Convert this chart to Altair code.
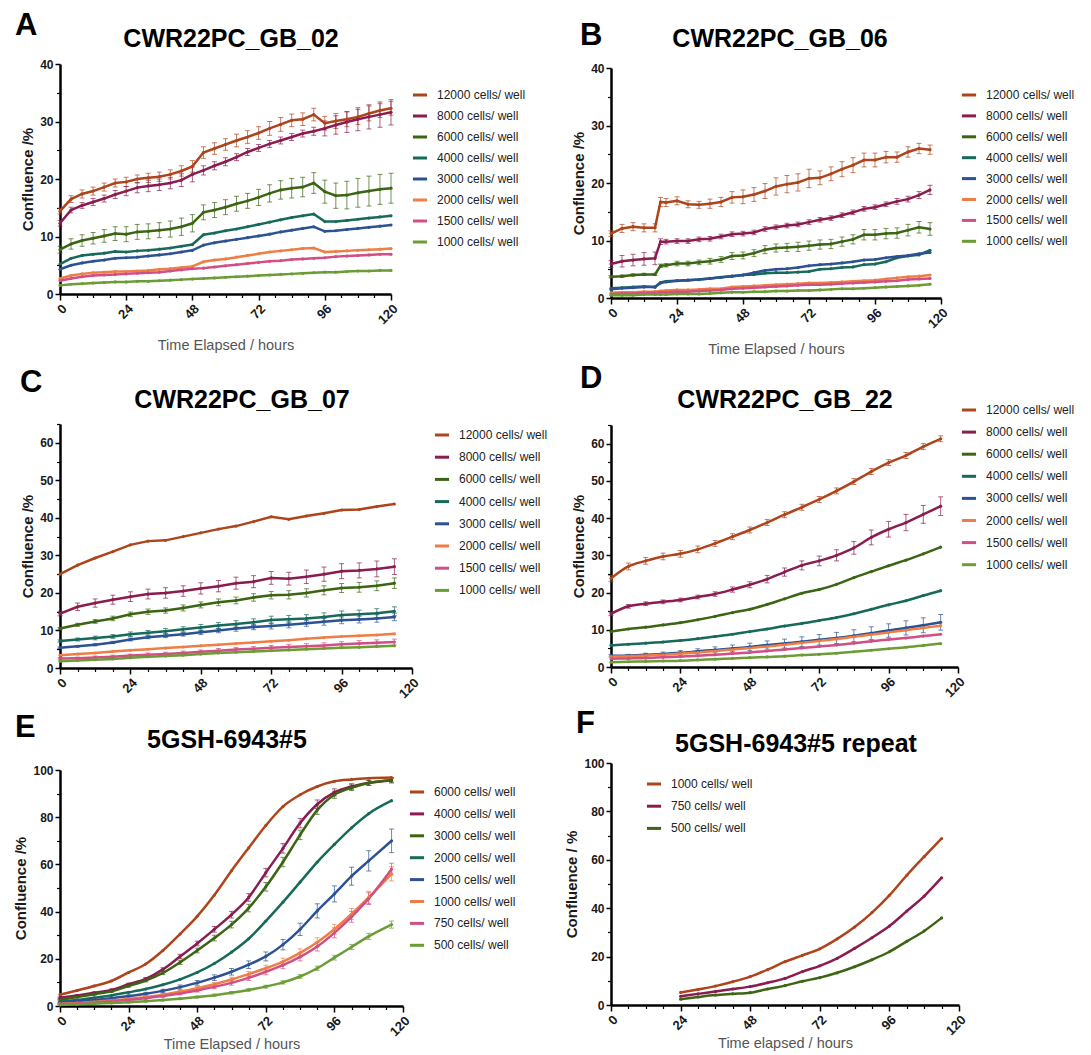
import altair as alt
import pandas as pd

FONT = "Liberation Sans"
COLORS = ["#AE441C", "#8A1C4F", "#3B6512", "#17695A", "#2D5293", "#EE7E45", "#D14F84", "#6C9C35"]

CWR_LABELS = ["12000 cells/ well", "8000 cells/ well", "6000 cells/ well", "4000 cells/ well",
              "3000 cells/ well", "2000 cells/ well", "1500 cells/ well", "1000 cells/ well"]
E_LABELS = ["6000 cells/ well", "4000 cells/ well", "3000 cells/ well", "2000 cells/ well",
            "1500 cells/ well", "1000 cells/ well", "750 cells/ well", "500 cells/ well"]
F_LABELS = ["1000 cells/ well", "750 cells/ well", "500 cells/ well"]

X_MAJOR = [0, 24, 48, 72, 96, 120]
X_MINOR = [6, 12, 18, 30, 36, 42, 54, 60, 66, 78, 84, 90, 102, 108, 114]

# ---------------- Panel A: CWR22PC_GB_02 ----------------
A_T = [0, 4, 8, 12, 16, 20, 24, 28, 32, 36, 40, 44, 48, 52, 56, 60, 64, 68, 72, 76, 80, 84, 88, 92, 96, 100, 104, 108, 112, 116, 120]
A_12000 = [14.4, 16.5, 17.4, 17.9, 18.6, 19.3, 19.5, 20.0, 20.2, 20.4, 20.8, 21.4, 22.2, 24.6, 25.3, 26.0, 26.7, 27.3, 28.0, 28.8, 29.5, 30.2, 30.4, 31.2, 29.7, 30.1, 30.4, 30.8, 31.4, 31.9, 32.3]
A_8000 = [12.3, 14.6, 15.4, 16.0, 16.6, 17.3, 17.9, 18.5, 18.8, 19.0, 19.3, 19.8, 20.8, 21.5, 22.3, 23.0, 23.8, 24.7, 25.4, 26.1, 26.7, 27.3, 27.9, 28.3, 28.8, 29.4, 29.9, 30.4, 30.8, 31.2, 31.6]
A_6000 = [7.7, 8.7, 9.3, 9.7, 10.1, 10.5, 10.4, 10.8, 10.9, 11.1, 11.3, 11.7, 12.3, 14.2, 14.6, 15.1, 15.7, 16.2, 16.8, 17.5, 18.1, 18.4, 18.6, 19.3, 17.8, 17.1, 17.2, 17.6, 17.9, 18.2, 18.4]
A_4000 = [5.2, 6.2, 6.7, 6.9, 7.1, 7.4, 7.3, 7.5, 7.6, 7.8, 8.0, 8.3, 8.6, 10.3, 10.6, 11.0, 11.3, 11.7, 12.1, 12.5, 12.9, 13.3, 13.6, 13.9, 12.6, 12.6, 12.8, 13.0, 13.2, 13.4, 13.6]
A_3000 = [4.3, 5.0, 5.4, 5.7, 5.9, 6.2, 6.3, 6.4, 6.6, 6.8, 7.0, 7.3, 7.6, 8.5, 8.9, 9.2, 9.5, 9.8, 10.1, 10.4, 10.8, 11.1, 11.4, 11.7, 10.9, 11.0, 11.2, 11.4, 11.6, 11.8, 12.0]
A_2000 = [2.7, 3.2, 3.5, 3.7, 3.8, 3.9, 3.9, 4.0, 4.1, 4.3, 4.4, 4.6, 4.8, 5.6, 5.9, 6.1, 6.4, 6.7, 7.0, 7.3, 7.5, 7.7, 7.9, 8.0, 7.3, 7.4, 7.5, 7.6, 7.7, 7.8, 7.9]
A_1500 = [2.3, 2.7, 3.0, 3.2, 3.3, 3.4, 3.5, 3.6, 3.7, 3.8, 4.0, 4.2, 4.4, 4.5, 4.7, 4.9, 5.1, 5.3, 5.5, 5.7, 5.8, 6.0, 6.1, 6.2, 6.3, 6.5, 6.6, 6.7, 6.8, 6.9, 6.9]
A_1000 = [1.5, 1.7, 1.8, 1.9, 2.0, 2.1, 2.1, 2.2, 2.2, 2.3, 2.4, 2.5, 2.6, 2.7, 2.8, 2.9, 3.0, 3.1, 3.2, 3.3, 3.4, 3.5, 3.6, 3.7, 3.8, 3.8, 3.9, 4.0, 4.0, 4.1, 4.1]
A_12000_ERR = [0.5, 0.6, 0.7, 0.7, 0.7, 0.7, 0.8, 0.7, 0.8, 0.8, 0.8, 0.9, 1.0, 1.0, 1.0, 1.0, 1.1, 1.1, 1.1, 1.2, 1.2, 1.1, 1.1, 1.1, 1.2, 1.3, 1.3, 1.3, 1.3, 1.2, 1.2]
A_8000_ERR = [0.5, 0.5, 0.5, 0.6, 0.6, 0.7, 0.8, 0.9, 1.0, 1.0, 1.0, 1.1, 1.3, 0.8, 0.7, 0.7, 0.6, 0.6, 0.6, 0.6, 0.6, 0.6, 0.6, 0.7, 1.3, 1.6, 1.8, 2.0, 2.1, 2.2, 2.2]
A_6000_ERR = [0.6, 0.9, 1.0, 1.0, 1.1, 1.2, 1.3, 1.3, 1.3, 1.3, 1.4, 1.5, 1.5, 1.3, 1.3, 1.3, 1.3, 1.3, 1.4, 1.5, 1.6, 1.7, 1.7, 1.8, 2.0, 2.2, 2.4, 2.5, 2.6, 2.6, 2.6]

# ---------------- Panel B: CWR22PC_GB_06 ----------------
B_T = [0, 4, 8, 12, 16, 18, 20, 24, 28, 32, 36, 40, 44, 48, 52, 56, 60, 64, 68, 72, 76, 80, 84, 88, 92, 96, 100, 104, 108, 112, 116]
B_12000 = [11.2, 12.1, 12.4, 12.2, 12.2, 16.7, 16.6, 16.9, 16.3, 16.2, 16.4, 16.7, 17.5, 17.6, 18.0, 18.6, 19.4, 19.8, 20.1, 20.8, 20.9, 21.6, 22.4, 23.1, 24.0, 24.0, 24.5, 24.5, 25.4, 26.0, 25.8]
B_8000 = [5.9, 6.4, 6.6, 6.8, 6.9, 9.8, 9.8, 9.9, 9.9, 10.2, 10.3, 10.7, 11.1, 11.2, 11.4, 12.0, 12.3, 12.6, 12.8, 13.2, 13.6, 13.9, 14.4, 14.9, 15.5, 15.8, 16.3, 16.8, 17.2, 17.9, 18.8]
B_6000 = [3.7, 3.8, 4.0, 4.1, 4.1, 5.6, 5.7, 6.0, 6.0, 6.2, 6.4, 6.7, 7.3, 7.4, 7.8, 8.4, 8.7, 8.8, 8.9, 9.1, 9.3, 9.4, 9.8, 10.2, 11.0, 11.0, 11.2, 11.3, 11.8, 12.3, 12.0]
B_4000 = [1.7, 1.8, 1.9, 2.0, 1.9, 2.7, 2.9, 3.0, 3.1, 3.2, 3.4, 3.6, 3.8, 4.0, 4.1, 4.3, 4.4, 4.4, 4.5, 4.6, 5.0, 5.1, 5.3, 5.4, 5.8, 5.9, 6.3, 7.0, 7.3, 7.5, 8.3]
B_3000 = [1.5, 1.7, 1.8, 1.9, 1.9, 2.6, 2.8, 3.0, 3.1, 3.2, 3.4, 3.6, 3.8, 4.0, 4.4, 4.8, 5.0, 5.1, 5.3, 5.6, 5.8, 5.9, 6.1, 6.3, 6.6, 6.7, 7.0, 7.2, 7.4, 7.7, 7.9]
B_2000 = [0.9, 1.0, 1.0, 1.1, 1.1, 1.2, 1.3, 1.4, 1.4, 1.5, 1.6, 1.6, 1.9, 2.0, 2.1, 2.2, 2.3, 2.4, 2.5, 2.6, 2.6, 2.7, 2.8, 2.9, 3.0, 3.1, 3.3, 3.5, 3.7, 3.8, 4.0]
B_1500 = [0.7, 0.8, 0.8, 0.9, 0.9, 1.0, 1.0, 1.1, 1.1, 1.2, 1.3, 1.4, 1.6, 1.7, 1.8, 1.9, 2.0, 2.1, 2.2, 2.3, 2.3, 2.4, 2.5, 2.6, 2.7, 2.8, 2.9, 3.0, 3.2, 3.3, 3.4]
B_1000 = [0.5, 0.5, 0.5, 0.6, 0.6, 0.6, 0.6, 0.7, 0.7, 0.7, 0.8, 0.9, 1.0, 1.0, 1.1, 1.1, 1.2, 1.2, 1.3, 1.3, 1.4, 1.5, 1.6, 1.6, 1.7, 1.8, 1.9, 2.0, 2.1, 2.2, 2.4]
B_12000_ERR = [0.5, 0.7, 0.7, 0.7, 0.7, 0.8, 0.7, 0.7, 0.6, 0.6, 0.8, 0.8, 1.0, 1.2, 1.2, 1.3, 1.5, 1.5, 1.5, 1.6, 1.2, 1.2, 1.3, 1.3, 1.2, 1.2, 1.0, 0.9, 0.9, 0.9, 0.8]
B_8000_ERR = [0.6, 1.0, 1.0, 1.1, 1.1, 0.5, 0.4, 0.4, 0.4, 0.4, 0.4, 0.4, 0.4, 0.4, 0.4, 0.4, 0.4, 0.4, 0.4, 0.4, 0.4, 0.4, 0.4, 0.4, 0.4, 0.4, 0.4, 0.5, 0.5, 0.6, 0.8]
B_6000_ERR = [0.2, 0.2, 0.2, 0.2, 0.2, 0.3, 0.3, 0.4, 0.4, 0.4, 0.5, 0.5, 0.6, 0.6, 0.6, 0.7, 0.7, 0.7, 0.8, 0.8, 0.8, 0.8, 0.8, 0.8, 0.9, 0.9, 0.9, 0.9, 1.0, 1.0, 1.1]

# ---------------- Panel C: CWR22PC_GB_07 ----------------
C_T = [0, 6, 12, 18, 24, 30, 36, 42, 48, 54, 60, 66, 72, 78, 84, 90, 96, 102, 108, 114]
C_12000 = [25.0, 27.4, 29.3, 31.0, 32.8, 33.8, 34.0, 35.0, 36.0, 37.0, 37.8, 39.0, 40.3, 39.6, 40.5, 41.2, 42.1, 42.2, 43.0, 43.7]
C_8000 = [14.5, 16.3, 17.3, 18.2, 19.0, 19.7, 20.0, 20.5, 21.2, 21.8, 22.6, 23.0, 24.0, 23.8, 24.3, 25.0, 25.8, 26.0, 26.4, 27.0]
C_6000 = [10.5, 11.5, 12.4, 13.2, 14.3, 15.0, 15.3, 16.0, 16.8, 17.5, 18.0, 18.8, 19.4, 19.5, 20.0, 20.7, 21.3, 21.5, 21.9, 22.6]
C_4000 = [7.2, 7.6, 8.0, 8.4, 9.0, 9.4, 9.8, 10.3, 10.8, 11.3, 11.7, 12.2, 12.8, 13.0, 13.2, 13.6, 14.1, 14.3, 14.6, 15.1]
C_3000 = [5.4, 5.8, 6.2, 6.8, 7.6, 8.2, 8.6, 9.0, 9.5, 10.0, 10.5, 10.9, 11.2, 11.5, 11.9, 12.3, 12.7, 12.9, 13.2, 13.6]
C_2000 = [3.4, 3.7, 4.0, 4.4, 4.7, 5.0, 5.3, 5.6, 5.9, 6.2, 6.5, 6.8, 7.1, 7.4, 7.8, 8.1, 8.4, 8.6, 8.8, 9.1]
C_1500 = [2.5, 2.6, 2.8, 3.0, 3.3, 3.5, 3.7, 4.0, 4.3, 4.6, 4.9, 5.1, 5.4, 5.6, 5.8, 6.0, 6.3, 6.5, 6.7, 6.9]
C_1000 = [1.8, 2.0, 2.2, 2.4, 2.7, 3.0, 3.2, 3.4, 3.7, 4.0, 4.2, 4.4, 4.6, 4.8, 5.0, 5.2, 5.4, 5.5, 5.7, 5.9]
C_8000_ERR = [0.6, 1.0, 1.1, 1.2, 1.3, 1.3, 1.4, 1.4, 1.5, 1.5, 1.6, 1.6, 1.7, 1.7, 1.8, 1.9, 2.0, 2.0, 2.1, 2.1]
C_6000_ERR = [0.3, 0.4, 0.5, 0.6, 0.6, 0.7, 0.7, 0.8, 0.8, 0.9, 0.9, 1.0, 1.0, 1.1, 1.1, 1.2, 1.2, 1.3, 1.3, 1.4]
C_4000_ERR = [0.3, 0.4, 0.5, 0.5, 0.6, 0.6, 0.7, 0.7, 0.8, 0.8, 0.9, 0.9, 1.0, 1.0, 1.0, 1.1, 1.1, 1.1, 1.2, 1.2]
C_3000_ERR = [0.2, 0.2, 0.3, 0.3, 0.4, 0.4, 0.5, 0.5, 0.6, 0.6, 0.7, 0.7, 0.8, 0.8, 0.8, 0.9, 0.9, 0.9, 1.0, 1.0]
C_1500_ERR = [0.3, 0.3, 0.4, 0.4, 0.4, 0.5, 0.5, 0.5, 0.5, 0.6, 0.6, 0.6, 0.6, 0.7, 0.7, 0.7, 0.7, 0.8, 0.8, 0.8]

# ---------------- Panel D: CWR22PC_GB_22 ----------------
D_T = [0, 6, 12, 18, 24, 30, 36, 42, 48, 54, 60, 66, 72, 78, 84, 90, 96, 102, 108, 114]
D_12000 = [23.8, 27.0, 28.5, 29.7, 30.4, 31.6, 33.2, 35.0, 36.8, 38.8, 40.9, 42.9, 45.0, 47.3, 49.8, 52.5, 54.9, 56.8, 59.2, 61.3]
D_8000 = [14.3, 16.3, 17.0, 17.5, 18.0, 18.8, 19.6, 20.8, 22.1, 23.6, 25.5, 27.3, 28.5, 30.0, 32.0, 34.8, 37.0, 38.8, 41.0, 43.2]
D_6000 = [9.5, 10.2, 10.7, 11.3, 11.9, 12.7, 13.6, 14.6, 15.5, 16.8, 18.3, 19.8, 20.8, 22.2, 24.0, 25.6, 27.2, 28.7, 30.4, 32.2]
D_4000 = [5.8, 6.1, 6.4, 6.7, 7.1, 7.6, 8.2, 8.8, 9.5, 10.2, 11.0, 11.7, 12.5, 13.3, 14.3, 15.5, 16.7, 17.8, 19.2, 20.5]
D_3000 = [3.0, 3.1, 3.3, 3.5, 3.8, 4.2, 4.6, 5.0, 5.4, 5.9, 6.3, 6.8, 7.3, 7.8, 8.4, 9.1, 9.8, 10.5, 11.2, 12.0]
D_2000 = [2.8, 2.9, 3.1, 3.3, 3.6, 3.9, 4.3, 4.7, 5.1, 5.5, 6.0, 6.5, 7.0, 7.5, 8.1, 8.7, 9.3, 9.9, 10.5, 11.1]
D_1500 = [2.2, 2.3, 2.4, 2.6, 2.8, 3.0, 3.3, 3.6, 3.9, 4.3, 4.7, 5.1, 5.5, 5.9, 6.4, 6.9, 7.4, 7.8, 8.3, 8.8]
D_1000 = [1.3, 1.4, 1.5, 1.6, 1.7, 1.9, 2.1, 2.3, 2.5, 2.7, 2.9, 3.2, 3.4, 3.7, 4.1, 4.5, 4.9, 5.3, 5.8, 6.3]
D_12000_ERR = [0.8, 0.9, 0.9, 0.9, 0.9, 0.9, 0.8, 0.8, 0.8, 0.8, 0.8, 0.8, 0.8, 0.8, 0.8, 0.8, 0.8, 0.8, 0.8, 0.8]
D_8000_ERR = [0.5, 0.5, 0.5, 0.5, 0.5, 0.5, 0.6, 0.7, 0.8, 1.0, 1.1, 1.2, 1.3, 1.5, 1.7, 2.0, 2.1, 2.2, 2.4, 2.5]
D_3000_ERR = [0.3, 0.3, 0.4, 0.5, 0.6, 0.7, 0.8, 0.9, 1.0, 1.1, 1.2, 1.3, 1.4, 1.5, 1.6, 1.7, 1.8, 1.9, 2.0, 2.1]

# ---------------- Panel E: 5GSH-6943#5 ----------------
E_T = [0, 6, 12, 18, 24, 30, 36, 42, 48, 54, 60, 66, 72, 78, 84, 90, 96, 102, 108, 116]
E_6000 = [4.8, 6.6, 8.5, 10.6, 14.2, 17.8, 23.5, 30.5, 38.0, 47.0, 57.3, 67.0, 76.5, 84.5, 89.5, 93.0, 95.2, 96.0, 96.5, 96.8]
E_4000 = [3.5, 4.5, 5.6, 6.8, 9.2, 11.5, 15.5, 21.0, 26.5, 32.5, 38.7, 46.0, 56.5, 66.8, 77.5, 85.5, 90.5, 93.0, 94.5, 95.5]
E_3000 = [2.5, 3.8, 5.0, 6.2, 8.5, 10.8, 14.0, 18.5, 23.5, 28.8, 34.5, 41.5, 50.5, 61.0, 72.5, 83.0, 89.5, 92.5, 94.5, 95.8]
E_2000 = [1.8, 2.5, 3.5, 4.5, 5.8, 7.2, 9.0, 11.3, 14.2, 18.0, 22.8, 28.5, 36.0, 44.0, 52.5, 61.0, 68.5, 75.5, 81.5, 87.0]
E_1500 = [1.5, 2.0, 2.6, 3.3, 4.2, 5.2, 6.4, 8.0, 9.8, 12.0, 14.5, 17.5, 21.0, 26.0, 32.5, 40.3, 47.5, 55.0, 61.5, 70.0]
E_1000 = [1.0, 1.3, 1.8, 2.3, 3.0, 3.8, 4.8, 6.0, 7.5, 9.2, 11.2, 13.5, 16.0, 18.8, 22.5, 27.0, 32.5, 39.0, 46.0, 56.0]
E_750 = [0.8, 1.1, 1.5, 2.0, 2.6, 3.3, 4.2, 5.3, 6.6, 8.1, 9.8, 11.9, 14.5, 17.3, 20.8, 25.2, 31.0, 37.8, 45.5, 58.0]
E_500 = [0.5, 0.7, 1.0, 1.3, 1.6, 2.0, 2.5, 3.1, 3.8, 4.6, 5.6, 6.8, 8.2, 10.0, 12.5, 16.0, 20.5, 25.0, 29.5, 34.5]
E_4000_ERR = [0.3, 0.3, 0.4, 0.4, 0.5, 0.6, 0.7, 0.9, 1.0, 1.2, 1.4, 1.6, 1.8, 2.0, 2.0, 1.8, 1.5, 1.2, 1.0, 1.0]
E_3000_ERR = [0.3, 0.3, 0.4, 0.4, 0.5, 0.6, 0.7, 0.9, 1.0, 1.2, 1.4, 1.6, 1.8, 2.0, 2.0, 1.8, 1.5, 1.2, 1.0, 1.0]
E_1500_ERR = [0.2, 0.3, 0.3, 0.4, 0.5, 0.6, 0.7, 0.9, 1.0, 1.2, 1.4, 1.6, 1.9, 2.2, 2.6, 3.0, 3.4, 3.8, 4.3, 5.0]
E_1000_ERR = [0.1, 0.2, 0.2, 0.3, 0.3, 0.4, 0.5, 0.6, 0.7, 0.8, 1.0, 1.1, 1.3, 1.5, 1.7, 1.9, 2.1, 2.3, 2.6, 3.0]
E_750_ERR = [0.1, 0.2, 0.2, 0.3, 0.3, 0.4, 0.5, 0.6, 0.7, 0.8, 1.0, 1.1, 1.3, 1.5, 1.7, 1.9, 2.1, 2.3, 2.5, 2.5]
E_500_ERR = [0.1, 0.1, 0.1, 0.2, 0.2, 0.2, 0.3, 0.3, 0.4, 0.4, 0.5, 0.5, 0.6, 0.7, 0.8, 0.9, 1.0, 1.1, 1.3, 1.5]

# ---------------- Panel F: 5GSH-6943#5 repeat ----------------
F_T = [24, 30, 36, 42, 48, 54, 60, 66, 72, 78, 84, 90, 96, 102, 108, 114]
F_1000 = [5.2, 6.4, 7.8, 9.6, 11.7, 14.6, 17.9, 20.5, 23.2, 27.3, 32.2, 38.2, 45.3, 53.6, 61.3, 68.8]
F_750 = [3.6, 4.6, 5.6, 6.6, 7.6, 9.2, 11.0, 13.8, 16.2, 19.3, 23.4, 27.8, 32.6, 38.8, 45.0, 52.6]
F_500 = [2.4, 3.3, 4.1, 4.6, 5.1, 6.6, 8.0, 9.8, 11.3, 13.3, 15.8, 18.7, 22.0, 26.3, 30.6, 36.0]


def panel(times, labels, series, errors, y_max, y_major, y_minor, plot_w, plot_h, view_w, top,
          letter, letter_pos, title, title_pos, legend_pos, row_pad, x_title, y_title, interp,
          x_title_pad):
    view_h = top + plot_h
    rows = [{"t": t, "v": v, "s": lab}
            for lab, vals in zip(labels, series) for t, v in zip(times, vals)]
    df = pd.DataFrame(rows)

    xs = alt.Scale(domain=[0, 120], range=[0, plot_w], nice=False, zero=False)
    ys = alt.Scale(domain=[0, y_max], range=[view_h, top], nice=False)
    cs = alt.Scale(domain=labels, range=COLORS[:len(labels)])

    common = dict(domainColor="black", domainWidth=2.5, tickColor="black", tickWidth=1.5,
                  grid=False, labelFont=FONT, labelFontWeight="bold", labelColor="#1a1a1a")
    x_axis = alt.Axis(values=X_MAJOR, orient="bottom", format="d", labelAngle=315,
                      labelFontSize=13, tickSize=6, labelPadding=2, title=x_title,
                      titleFont=FONT, titleFontSize=14.5, titleFontWeight="normal",
                      titleColor="#555555", titlePadding=x_title_pad, **common)
    y_axis = alt.Axis(values=y_major, orient="left", format="d", labelFontSize=12,
                      tickSize=5, labelPadding=2, title=y_title, titleFont=FONT,
                      titleFontSize=15, titleFontWeight="bold", titleColor="#1a1a1a",
                      titlePadding=4, **common)
    x_minor = alt.Axis(values=X_MINOR, orient="bottom", labels=False, domain=False,
                       tickSize=3.5, tickWidth=1.2, tickColor="black", grid=False, title=None)
    y_minor_axis = alt.Axis(values=y_minor, orient="left", labels=False, domain=False,
                            tickSize=3.5, tickWidth=1.2, tickColor="black", grid=False, title=None)
    legend = alt.Legend(orient="none", legendX=legend_pos[0], legendY=legend_pos[1], title=None,
                        symbolType="stroke", symbolStrokeWidth=3, symbolSize=200,
                        symbolOpacity=1, labelFont=FONT, labelFontSize=12, labelColor="#222222",
                        rowPadding=row_pad, labelOffset=8, padding=0)
    color = alt.Color("s:N", scale=cs, sort=labels, legend=legend)

    layers = []
    if errors:
        erows = []
        for lab, errs in errors:
            vals = series[labels.index(lab)]
            for t, v, d in zip(times, vals, errs):
                erows.append({"t": t, "lo": v - d, "hi": v + d, "s": lab})
        edf = pd.DataFrame(erows)
        layers.append(
            alt.Chart(edf).mark_errorbar(ticks=True, opacity=0.7, size=5, thickness=1).encode(
                x=alt.X("t:Q", scale=xs, axis=None),
                y=alt.Y("lo:Q", scale=ys, axis=None),
                y2="hi:Q",
                color=color,
            )
        )
    layers.append(
        alt.Chart(df).mark_line(strokeWidth=2.5, interpolate=interp).encode(
            x=alt.X("t:Q", scale=xs, axis=x_axis),
            y=alt.Y("v:Q", scale=ys, axis=y_axis),
            color=color,
        )
    )
    layers.append(
        alt.Chart(df).mark_point(filled=True, size=10, opacity=1).encode(
            x=alt.X("t:Q", scale=xs, axis=None),
            y=alt.Y("v:Q", scale=ys, axis=None),
            color=color,
        )
    )
    layers.append(
        alt.Chart(df).mark_point(opacity=0).encode(
            x=alt.X("t:Q", scale=xs, axis=x_minor),
            y=alt.Y("v:Q", scale=ys, axis=y_minor_axis),
        )
    )
    layers.append(
        alt.Chart(pd.DataFrame({"lab": [letter]})).mark_text(
            font=FONT, fontSize=31, fontWeight="bold", align="left", baseline="alphabetic",
            color="black").encode(x=alt.value(letter_pos[0]), y=alt.value(letter_pos[1]), text="lab:N")
    )
    layers.append(
        alt.Chart(pd.DataFrame({"lab": [title]})).mark_text(
            font=FONT, fontSize=25, fontWeight="bold", align="center", baseline="alphabetic",
            color="black").encode(x=alt.value(title_pos[0]), y=alt.value(title_pos[1]), text="lab:N")
    )
    return alt.layer(*layers).resolve_axis(x="independent", y="independent").properties(
        width=view_w, height=view_h)


pA = panel(A_T, CWR_LABELS, [A_12000, A_8000, A_6000, A_4000, A_3000, A_2000, A_1500, A_1000],
           [(CWR_LABELS[0], A_12000_ERR), (CWR_LABELS[1], A_8000_ERR), (CWR_LABELS[2], A_6000_ERR)],
           40, [0, 10, 20, 30, 40], [5, 15, 25, 35], 331, 230, 551, 0,
           "A", (-45, -29), "CWR22PC_GB_02", (171, -17), (351, 22), 6.0,
           "Time Elapsed / hours", "Confluence /%", "linear", 12)
pB = panel(B_T, CWR_LABELS, [B_12000, B_8000, B_6000, B_4000, B_3000, B_2000, B_1500, B_1000],
           [(CWR_LABELS[0], B_12000_ERR), (CWR_LABELS[1], B_8000_ERR), (CWR_LABELS[2], B_6000_ERR)],
           40, [0, 10, 20, 30, 40], [5, 15, 25, 35], 330, 230, 330, 4,
           "B", (-31, -19), "CWR22PC_GB_06", (169, -17), (349, 22), 5.9,
           "Time Elapsed / hours", "Confluence /%", "linear", 12)
pC = panel(C_T, CWR_LABELS, [C_12000, C_8000, C_6000, C_4000, C_3000, C_2000, C_1500, C_1000],
           [(CWR_LABELS[1], C_8000_ERR), (CWR_LABELS[2], C_6000_ERR), (CWR_LABELS[3], C_4000_ERR),
            (CWR_LABELS[4], C_3000_ERR), (CWR_LABELS[6], C_1500_ERR)],
           65, [0, 10, 20, 30, 40, 50, 60], [5, 15, 25, 35, 45, 55, 65], 352, 244, 551, 126,
           "C", (-40, 94), "CWR22PC_GB_07", (182, 110), (373, 128), 7.2,
           None, "Confluence /%", "linear", 10)
pD = panel(D_T, CWR_LABELS, [D_12000, D_8000, D_6000, D_4000, D_3000, D_2000, D_1500, D_1000],
           [(CWR_LABELS[0], D_12000_ERR), (CWR_LABELS[1], D_8000_ERR), (CWR_LABELS[4], D_3000_ERR)],
           65, [0, 10, 20, 30, 40, 50, 60], [5, 15, 25, 35, 45, 55, 65], 347, 242, 347, 127,
           "D", (-31, 90), "CWR22PC_GB_22", (174, 110), (349, 103), 7.1,
           None, "Confluence /%", "monotone", 10)
pE = panel(E_T, E_LABELS, [E_6000, E_4000, E_3000, E_2000, E_1500, E_1000, E_750, E_500],
           [(E_LABELS[1], E_4000_ERR), (E_LABELS[2], E_3000_ERR), (E_LABELS[4], E_1500_ERR),
            (E_LABELS[5], E_1000_ERR), (E_LABELS[6], E_750_ERR), (E_LABELS[7], E_500_ERR)],
           100, [0, 20, 40, 60, 80, 100], [10, 30, 50, 70, 90], 343, 236, 551, 102,
           "E", (-45, 69), "5GSH-6943#5", (167, 80), (348, 115), 6.9,
           "Time Elapsed / hours", "Confluence /%", "monotone", -1)
pF = panel(F_T, F_LABELS, [F_1000, F_750, F_500], [],
           100, [0, 20, 40, 60, 80, 100], [10, 30, 50, 70, 90], 348, 242, 348, 95,
           "F", (-35, 65), "5GSH-6943#5 repeat", (185, 84), (34, 107), 7.2,
           "Time elapsed / hours", "Confluence / %", "monotone", -1)

chart = alt.concat(pA, pB, pC, pD, pE, pF, columns=2, spacing=0, bounds="flush").resolve_scale(
    color="independent"
).properties(
    padding={"left": 5, "top": 1, "right": 5, "bottom": 0}
).configure_view(stroke="transparent")

chart.save("out.html", embed_options={"renderer": "svg", "actions": False})
